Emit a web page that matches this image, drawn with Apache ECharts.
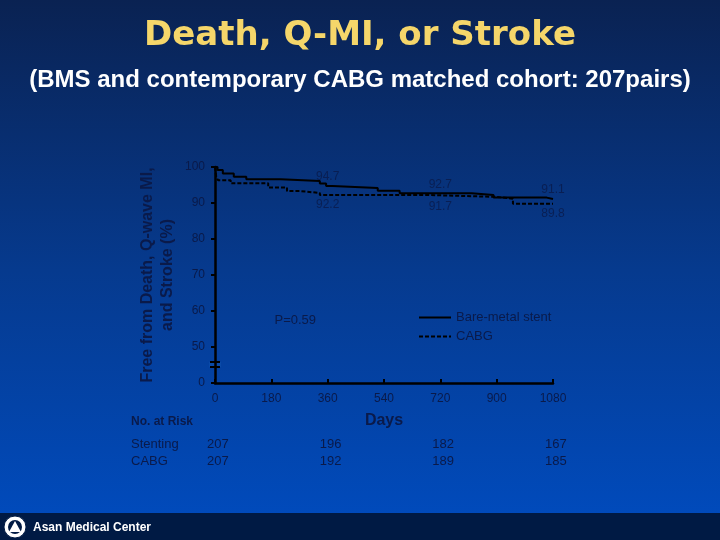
<!DOCTYPE html>
<html>
<head>
<meta charset="utf-8">
<script src="https://cdn.jsdelivr.net/npm/echarts@6/dist/echarts.min.js"></script>
<style>
  html, body { margin: 0; padding: 0; }
  #main { width: 720px; height: 540px; }
</style>
</head>
<body>
<div id="main"></div>
<script>
// Kaplan-Meier style curves, [day, % free]
const bmsCurve = [[0, 100], [8, 99.2], [25, 98.2], [60, 97.3], [100, 96.6], [210, 96.1], [335, 95.4],
  [355, 94.7], [375, 94.2], [520, 93.4], [590, 92.7], [820, 92.2], [890, 91.5], [1060, 91.1], [1080, 91.1]];
const cabgCurve = [[0, 100], [4, 97.2], [10, 96.3], [50, 95.5], [170, 94.3], [230, 93.3], [272, 92.8],
  [335, 92.2], [690, 91.7], [900, 91.2], [952, 89.8], [1080, 89.8]];

// labelled values at 1, 2, 3 years
const labelDays = [360, 720, 1080];
const bmsLabels = [94.7, 92.7, 91.1];
const cabgLabels = [92.2, 91.7, 89.8];

const xTicks = [0, 180, 360, 540, 720, 900, 1080];
const riskDays = [0, 360, 720, 1080];
const riskStenting = [207, 196, 182, 167];
const riskCabg = [207, 192, 189, 185];

const dark = '#0a1a4a';
const chart = echarts.init(document.getElementById('main'));

const bg = new echarts.graphic.LinearGradient(0, 0, 0, 1, [
  { offset: 0, color: '#0a2252' },
  { offset: 0.5, color: '#063a8e' },
  { offset: 1, color: '#004cc0' }
]);

chart.setOption({
  backgroundColor: bg,
  animation: false,
  title: [{
    text: 'Death, Q-MI, or Stroke',
    left: 'center', top: 14,
    textStyle: { color: '#f5d66a', fontSize: 34, fontWeight: 'bold', fontFamily: 'DejaVu Sans' }
  }, {
    text: '(BMS and contemporary CABG matched cohort: 207pairs)',
    left: 'center', top: 63,
    textStyle: { color: '#ffffff', fontSize: 24, fontWeight: 'bold', fontFamily: 'Liberation Sans' }
  }],
  grid: { left: 215, right: 167, top: 167, bottom: 157 },
  legend: {
    orient: 'vertical',
    left: 413, top: 306,
    itemWidth: 32, itemHeight: 10, itemGap: 6,
    itemStyle: { opacity: 0 },
    textStyle: { color: dark, fontSize: 13, fontFamily: 'Liberation Sans' },
    data: ['Bare-metal stent', 'CABG']
  },
  xAxis: {
    type: 'value',
    min: 0, max: 1080, interval: 180,
    name: 'Days', nameLocation: 'middle', nameGap: 30,
    nameTextStyle: { color: dark, fontSize: 16, fontWeight: 'bold', fontFamily: 'Liberation Sans' },
    axisLine: { lineStyle: { color: '#000', width: 2.5 } },
    axisTick: { inside: true, length: 4, lineStyle: { color: '#000', width: 2 } },
    axisLabel: { color: dark, fontSize: 12, margin: 10, fontFamily: 'Liberation Sans', formatter: v => String(v) },
    splitLine: { show: false }
  },
  yAxis: {
    type: 'value',
    min: 40, max: 100, interval: 10,
    name: 'Free from Death, Q-wave MI,\nand Stroke (%)',
    nameLocation: 'middle', nameGap: 37, nameRotate: 90,
    nameTextStyle: { color: dark, fontSize: 16, fontWeight: 'bold', lineHeight: 20, fontFamily: 'Liberation Sans' },
    axisLine: { show: true, lineStyle: { color: '#000', width: 2.5 } },
    axisTick: { show: true, length: 4, lineStyle: { color: '#000', width: 2 } },
    axisLabel: {
      color: dark, fontSize: 12, margin: 10, fontFamily: 'Liberation Sans',
      formatter: v => (v === 40 ? '0' : String(v))
    },
    splitLine: { show: false }
  },
  series: [{
    name: 'Bare-metal stent',
    type: 'line', step: 'end', symbol: 'none',
    lineStyle: { color: '#000', width: 2 },
    itemStyle: { color: '#000' },
    data: bmsCurve
  }, {
    name: 'CABG',
    type: 'line', step: 'end', symbol: 'none',
    lineStyle: { color: '#000', width: 2, type: [4, 2] },
    itemStyle: { color: '#000' },
    data: cabgCurve
  }, {
    type: 'scatter', symbolSize: 0, silent: true,
    label: {
      show: true, position: 'top', distance: 3, color: dark, fontSize: 12, fontFamily: 'Liberation Sans',
      formatter: p => p.value[1].toFixed(1)
    },
    data: labelDays.map((d, i) => [d, bmsLabels[i]])
  }, {
    type: 'scatter', symbolSize: 0, silent: true,
    label: {
      show: true, position: 'bottom', distance: 4, color: dark, fontSize: 12, fontFamily: 'Liberation Sans',
      formatter: p => p.value[1].toFixed(1)
    },
    data: labelDays.map((d, i) => [d, cabgLabels[i]])
  }]
});

// extra text and decorations placed with the chart's own scales
const px = (x, y) => chart.convertToPixel({ gridIndex: 0 }, [x, y]);
const txt = (x, y, s, extra) => ({
  type: 'text', x: x, y: y,
  style: Object.assign({ text: s, fill: dark, fontSize: 12, fontFamily: 'Liberation Sans' }, extra || {})
});

const brk = px(0, 45);
const pPos = px(190, 57.5);
const rows = [];
riskDays.forEach((d, i) => {
  const p = px(d, 40);
  rows.push(txt(p[0] - 8, 438, String(riskStenting[i]), { align: 'left', fontSize: 13 }));
  rows.push(txt(p[0] - 8, 455, String(riskCabg[i]), { align: 'left', fontSize: 13 }));
});

chart.setOption({
  graphic: [
    { type: 'rect', shape: { x: brk[0] - 6, y: brk[1] - 3, width: 12, height: 5 }, style: { fill: '#0a4aa8' } },
    { type: 'line', shape: { x1: brk[0] - 5, y1: brk[1] - 3, x2: brk[0] + 5, y2: brk[1] - 3 }, style: { stroke: '#000', lineWidth: 2 } },
    { type: 'line', shape: { x1: brk[0] - 5, y1: brk[1] + 2, x2: brk[0] + 5, y2: brk[1] + 2 }, style: { stroke: '#000', lineWidth: 2 } },
    txt(pPos[0], pPos[1] - 6, 'P=0.59', { fontSize: 13 }),
    txt(131, 416, 'No. at Risk', { fontWeight: 'bold' }),
    txt(131, 438, 'Stenting', { fontSize: 13 }),
    txt(131, 455, 'CABG', { fontSize: 13 }),
    ...rows,
    { type: 'rect', shape: { x: 0, y: 513, width: 720, height: 27 }, style: { fill: '#001a44' } },
    { type: 'circle', shape: { cx: 15, cy: 527, r: 11 }, style: { fill: '#ffffff', stroke: '#001a44', lineWidth: 1 } },
    { type: 'circle', shape: { cx: 15, cy: 527, r: 7 }, style: { fill: '#001a44' } },
    { type: 'polygon', shape: { points: [[15, 521], [9, 532], [21, 532]] }, style: { fill: '#ffffff' } },
    txt(33, 522, 'Asan Medical Center', { fill: '#ffffff', fontWeight: 'bold', fontSize: 12 })
  ]
});
</script>
</body>
</html>
